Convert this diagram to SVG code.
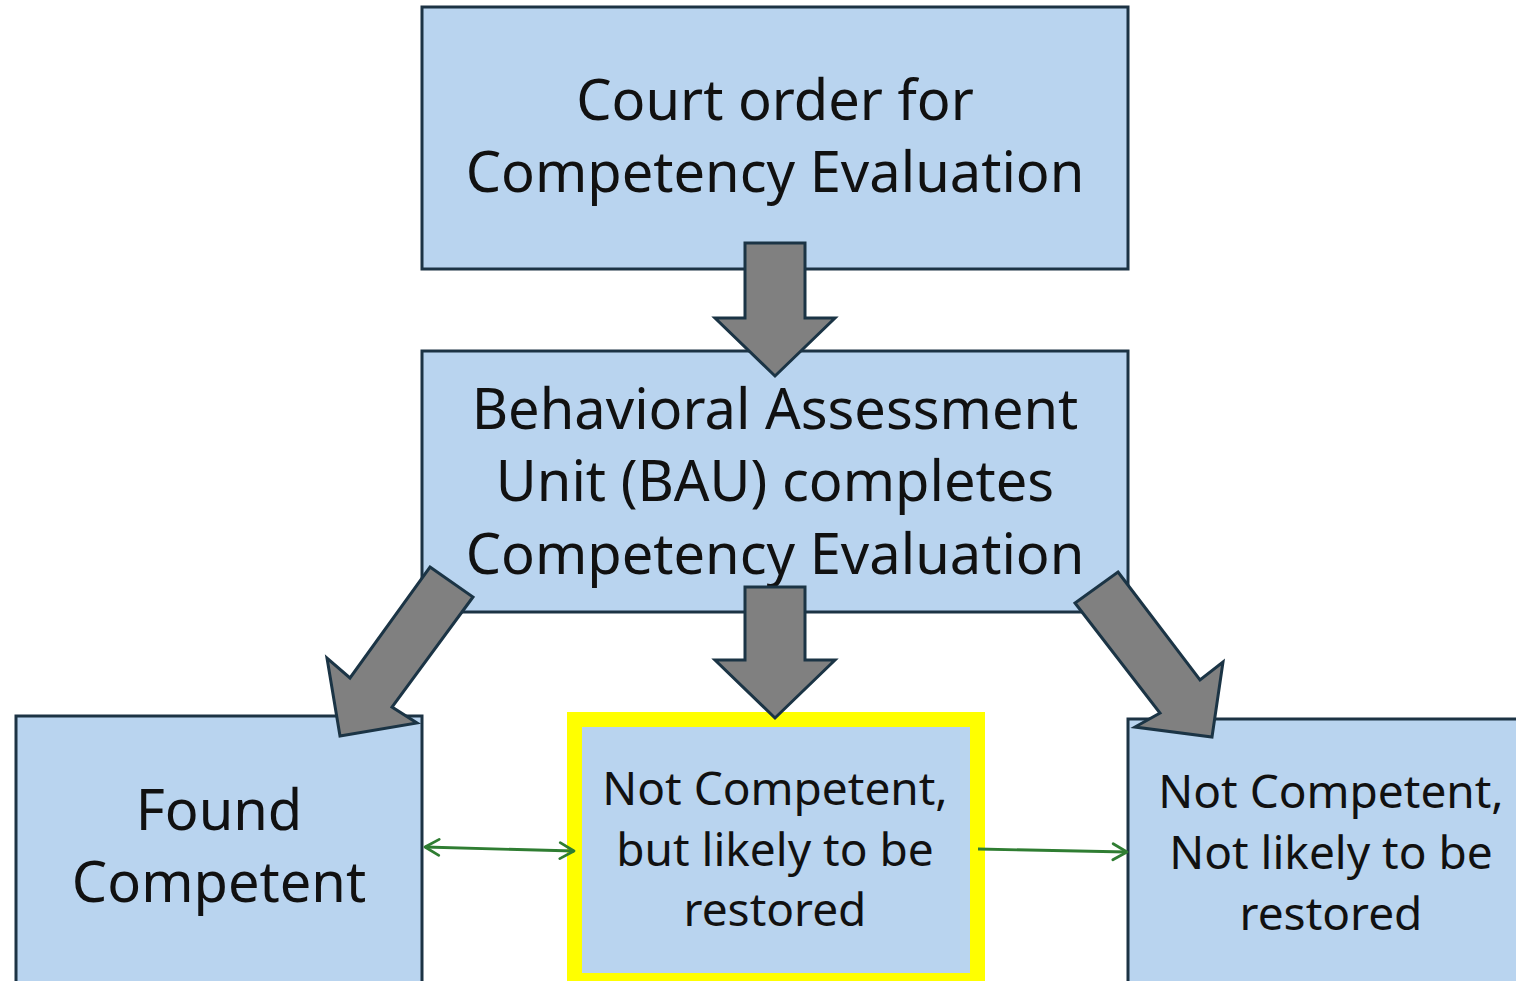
<svg xmlns="http://www.w3.org/2000/svg" width="1516" height="981" viewBox="0 0 1516 981">
<defs>
<style>
.box{fill:#b9d4ef;stroke:#1c3344;stroke-width:3}
.big{fill:#808080;stroke:#1b3445;stroke-width:3;stroke-linejoin:miter}
.t{font-family:"Noto Sans","Open Sans",sans-serif;fill:#111;text-anchor:middle}
.t1{font-size:56px}
.t2{font-size:46px}
.g{stroke:#2f7d32;stroke-width:2.8;fill:none}
</style>
<marker id="ah" viewBox="0 0 22 22" refX="19" refY="11" markerWidth="22" markerHeight="22" markerUnits="userSpaceOnUse" orient="auto-start-reverse">
<path d="M5,3 L19,11 L5,19" fill="none" stroke="#2f7d32" stroke-width="2.8" stroke-linecap="round" stroke-linejoin="round"/>
</marker>
</defs>
<rect width="1516" height="981" fill="#fff"/>
<g id="court">
<rect class="box" x="422" y="7" width="706" height="262"/>
<text class="t t1" x="775" y="120">Court order for</text>
<text class="t t1" x="775" y="192">Competency Evaluation</text>
</g>
<g id="bau">
<rect class="box" x="422" y="351" width="706" height="261"/>
<text class="t t1" x="775" y="429">Behavioral Assessment</text>
<text class="t t1" x="775" y="501">Unit (BAU) completes</text>
<text class="t t1" x="775" y="574">Competency Evaluation</text>
</g>
<g id="found">
<rect class="box" x="16" y="716" width="406" height="270"/>
<text class="t t1" x="219" y="830">Found</text>
<text class="t t1" x="219" y="902">Competent</text>
</g>
<g id="restorable">
<rect x="567" y="712" width="418" height="280" fill="#ffff00"/>
<rect x="582" y="727" width="388" height="246" fill="#b9d4ef"/>
<text class="t t2" x="775" y="805">Not Competent,</text>
<text class="t t2" x="775" y="866">but likely to be</text>
<text class="t t2" x="775" y="926">restored</text>
</g>
<g id="notrestorable">
<rect class="box" x="1128" y="719" width="400" height="270"/>
<text class="t t2" x="1331" y="808">Not Competent,</text>
<text class="t t2" x="1331" y="869">Not likely to be</text>
<text class="t t2" x="1331" y="930">restored</text>
</g>
<g id="connectors">
<polygon class="big" points="745,243 805,243 805,318 835,318 775,376 715,318 745,318"/>
<polygon class="big" points="745,587 805,587 805,660 835,660 775,718 715,660 745,660"/>
<polygon class="big" points="430,567 473,597 392,707 417,723 340,736 327,658 350,678"/>
<polygon class="big" points="1118,572 1200,680 1223,662 1212,737 1135,727 1160,713 1075,603"/>
<line class="g" x1="425" y1="847" x2="574" y2="851" marker-start="url(#ah)" marker-end="url(#ah)"/>
<line class="g" x1="978" y1="849" x2="1127" y2="852" marker-end="url(#ah)"/>
</g>
</svg>
